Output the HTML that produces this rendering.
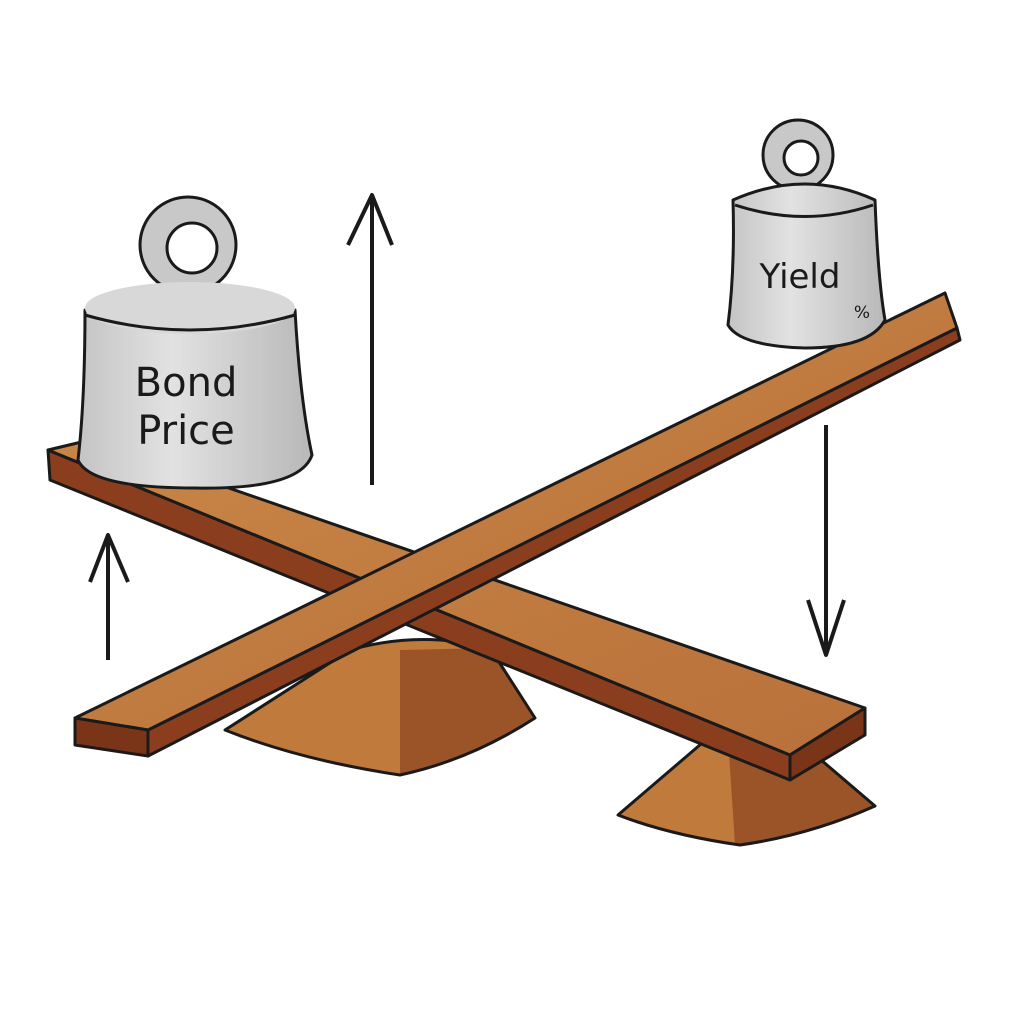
<!DOCTYPE html>
<html><head><meta charset="utf-8"><style>html,body{margin:0;padding:0;background:#fff}</style></head><body>
<svg width="1024" height="1024" viewBox="0 0 1024 1024" xmlns="http://www.w3.org/2000/svg">
<defs>
<linearGradient id="wd" x1="0" y1="0" x2="1" y2="1"><stop offset="0" stop-color="#c98546"/><stop offset="1" stop-color="#b8713a"/></linearGradient>
<linearGradient id="mt" x1="0" y1="0" x2="1" y2="0"><stop offset="0" stop-color="#c4c4c4"/><stop offset="0.4" stop-color="#e2e2e2"/><stop offset="1" stop-color="#b8b8b8"/></linearGradient>
</defs>
<rect width="1024" height="1024" fill="#fff"/>
<g stroke="#1a1a1a" stroke-width="3" stroke-linejoin="round">
<!-- fulcrums -->
<path d="M225 730 L350 650 Q420 630 490 648 L535 718 Q470 760 400 775 Q300 760 225 730 Z" fill="#c07a3c" stroke="none"/>
<path d="M400 650 L400 775 Q470 760 535 718 L490 648 Z" fill="#9a5428" stroke="none"/>
<path d="M225 730 L350 650 Q420 630 490 648 L535 718 Q470 760 400 775 Q300 760 225 730 Z" fill="none"/>
<path d="M618 815 L708 738 Q760 728 800 742 L875 806 Q810 835 740 845 Q670 835 618 815 Z" fill="#c07a3c" stroke="none"/>
<path d="M728 738 L735 845 Q810 835 875 806 L800 742 Z" fill="#9a5428" stroke="none"/>
<path d="M618 815 L708 738 Q760 728 800 742 L875 806 Q810 835 740 845 Q670 835 618 815 Z" fill="none"/>
<!-- board 1 -->
<path d="M48 450 L790 755 L790 780 L50 480 Z" fill="#8a3e1e"/>
<path d="M48 450 L90 440 L865 708 L790 755 Z" fill="url(#wd)"/>
<path d="M790 755 L865 708 L865 735 L790 780 Z" fill="#7a3518"/>
<!-- board 2 -->
<path d="M148 730 L957 328 L960 340 L148 756 Z" fill="#8a3e1e"/>
<path d="M75 718 L945 293 L957 328 L148 730 Z" fill="url(#wd)"/>
<path d="M75 718 L148 730 L148 756 L75 745 Z" fill="#7a3518"/>
<!-- left weight -->
<circle cx="188" cy="245" r="48" fill="#c8c8c8"/>
<circle cx="192" cy="248" r="25" fill="#fff"/>
<path d="M85 310 Q195 270 295 310 Q300 400 312 455 Q300 490 195 488 Q90 488 78 460 Q85 400 85 310 Z" fill="url(#mt)"/>
<ellipse cx="190" cy="308" rx="105" ry="26" fill="#d8d8d8" stroke="none"/>
<path d="M85 315 Q190 345 295 315" fill="none"/>
<!-- right weight -->
<circle cx="798" cy="155" r="35" fill="#c8c8c8"/>
<circle cx="801" cy="158" r="17" fill="#fff"/>
<path d="M733 200 Q805 168 875 200 Q878 280 885 320 Q870 348 805 348 Q740 346 728 325 Q735 270 733 200 Z" fill="url(#mt)"/>
<path d="M735 205 Q805 228 873 205" fill="none"/>
<!-- arrows -->
<path d="M372 485 L372 198 M348 245 L372 195 L392 245" fill="none" stroke-width="4"/>
<path d="M108 660 L108 538 M90 582 L108 535 L128 582" fill="none" stroke-width="4"/>
<path d="M826 425 L826 652 M808 600 L826 655 L844 600" fill="none" stroke-width="4"/>
</g>
<g font-family="DejaVu Sans, sans-serif" fill="#1a1a1a" text-anchor="middle">
<text x="186" y="396" font-size="40">Bond</text>
<text x="186" y="444" font-size="40">Price</text>
<text x="800" y="288" font-size="34">Yield</text>
<text x="862" y="318" font-size="17">%</text>
</g>
</svg>
</body></html>
